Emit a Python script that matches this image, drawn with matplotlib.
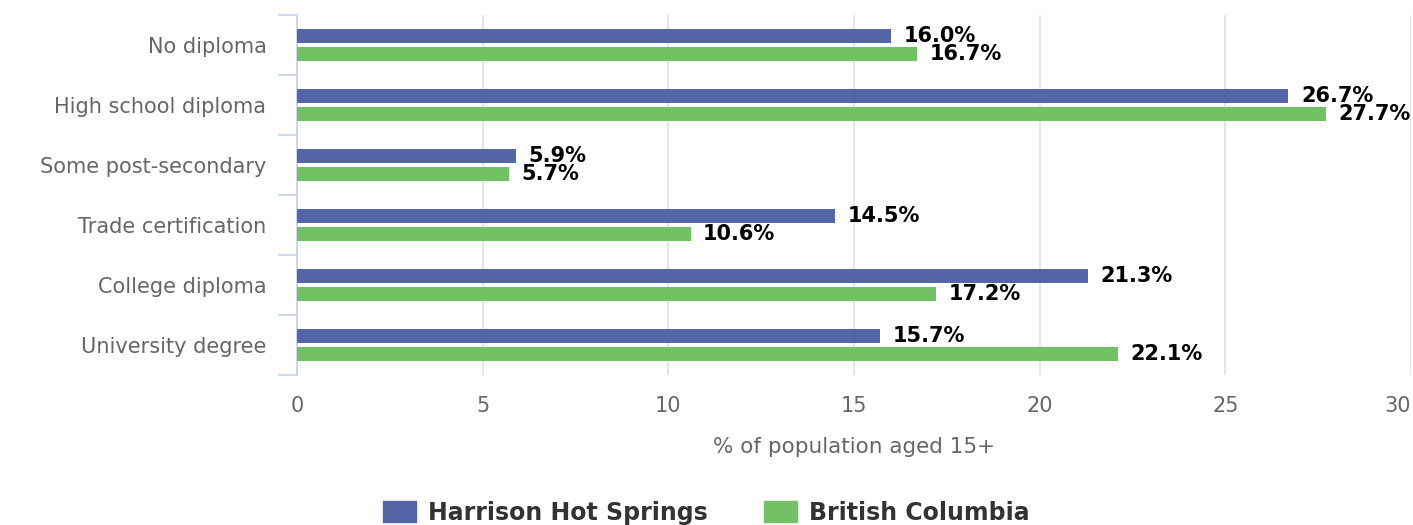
import numpy as np
import matplotlib.pyplot as plt
from matplotlib.patches import Patch

categories = ["No diploma", "High school diploma", "Some post-secondary",
              "Trade certification", "College diploma", "University degree"]
harrison = [16.0, 26.7, 5.9, 14.5, 21.3, 15.7]
bc = [16.7, 27.7, 5.7, 10.6, 17.2, 22.1]
xticks = [0, 5, 10, 15, 20, 25, 30]

blue = "#5465a8"
green = "#72c164"

fig = plt.figure(figsize=(14.13, 5.25), dpi=100)
ax = fig.add_axes([0.2102, 0.2857, 0.7884, 0.6857])

y = np.arange(len(categories))
h = 0.235
off = 0.15
ax.barh(y - off, harrison, height=h, color=blue, zorder=3)
ax.barh(y + off, bc, height=h, color=green, zorder=3)

for yi, v in zip(y, harrison):
    ax.annotate(f"{v:.1f}%", (v, yi - off), xytext=(9, 0), textcoords="offset points",
                va="center", ha="left", fontsize=15, fontweight="bold", color="black")
for yi, v in zip(y, bc):
    ax.annotate(f"{v:.1f}%", (v, yi + off), xytext=(9, 0), textcoords="offset points",
                va="center", ha="left", fontsize=15, fontweight="bold", color="black")

ax.set_xlim(0, 30)
ax.set_ylim(5.5, -0.5)
ax.set_xticks(xticks)
ax.set_xticklabels([str(t) for t in xticks])
ax.tick_params(axis="x", length=0, pad=15, labelsize=15, labelcolor="#666666")
ax.get_xticklabels()[-1].set_horizontalalignment("right")

ax.set_yticks(y)
ax.set_yticklabels(categories)
ax.tick_params(axis="y", which="major", length=0, pad=22, labelsize=15, labelcolor="#666666")
ax.set_yticks(np.arange(-0.5, len(categories)), minor=True)
ax.tick_params(axis="y", which="minor", length=14, width=1.3, color="#ccd6eb", direction="out")

ax.grid(axis="x", color="#e0e0e0", linewidth=1.2, zorder=0)
for s in ["top", "right", "bottom"]:
    ax.spines[s].set_visible(False)
ax.spines["left"].set_color("#ccd6eb")
ax.spines["left"].set_linewidth(1.3)

ax.set_xlabel("% of population aged 15+", fontsize=15.5, color="#666666", labelpad=15)

handles = [Patch(color=blue, label="Harrison Hot Springs"),
           Patch(color=green, label="British Columbia")]
fig.legend(handles=handles, loc="lower center", bbox_to_anchor=(0.5, -0.04), ncol=2,
           frameon=False, prop={"size": 17, "weight": "bold"}, labelcolor="#333333",
           handlelength=1.4, handleheight=1.0, columnspacing=2.4, handletextpad=0.5)

fig.savefig("out.png", dpi=100)
